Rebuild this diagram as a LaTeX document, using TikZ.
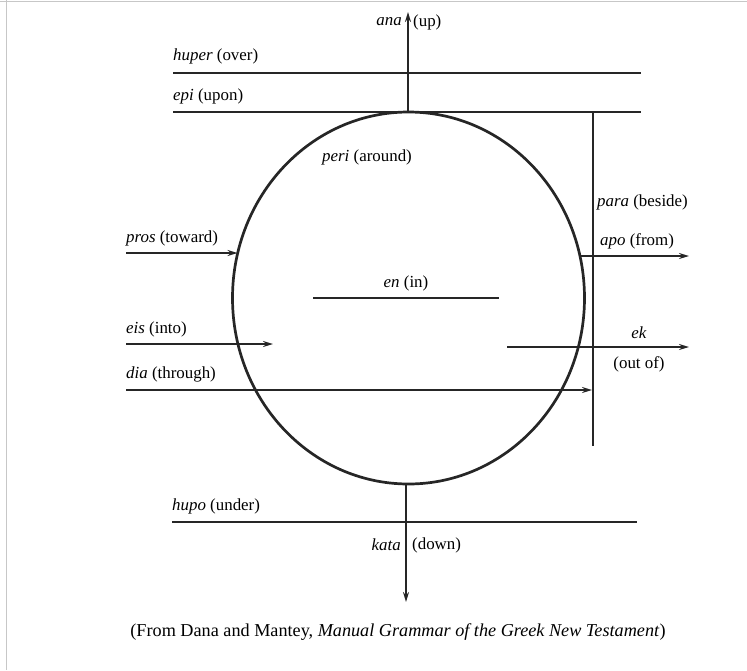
\documentclass[tikz,border=0pt]{standalone}
\usepackage{fontspec}
\setmainfont{Liberation Serif}
\usetikzlibrary{arrows.meta}
\begin{document}
\begin{tikzpicture}[x=1pt,y=-1pt,
  ln/.style={line width=1.7pt,black!85},
  arr/.style={ln,-{Stealth[length=10pt,width=6pt]}},
  lbl/.style={inner sep=0pt,font=\fontsize{16.9}{19}\selectfont},
  captxt/.style={inner sep=0pt,font=\fontsize{18.2}{21}\selectfont},
  circ/.style={line width=2.7pt,black!85},
  frame/.style={line width=1.5pt,black!22}]
\useasboundingbox (0,0) rectangle (747,670);
% screenshot frame
\coordinate (f0) at (0,1.5);
\coordinate (f1) at (747,1.5);
\coordinate (g0) at (6.5,0);
\coordinate (g1) at (6.5,670);
\draw[frame] (f0) -- (f1);
\draw[frame] (g0) -- (g1);
% circle
\coordinate (C) at (408.5,298);
\draw[circ] (C) ellipse [x radius=176, y radius=186];
% coordinates
\coordinate (anaT) at (408,12);
\coordinate (anaB) at (408,112);
\coordinate (kataT) at (406,484);
\coordinate (kataB) at (406,602);
\coordinate (huL) at (173,73);
\coordinate (huR) at (641,73);
\coordinate (epL) at (173,112);
\coordinate (epR) at (641,112);
\coordinate (paT) at (593,112);
\coordinate (paB) at (593,446);
\coordinate (prL) at (126,253);
\coordinate (prR) at (237.5,253);
\coordinate (eiL) at (126,344);
\coordinate (eiR) at (273,344);
\coordinate (diL) at (126,390);
\coordinate (diR) at (592,390);
\coordinate (enL) at (313,298);
\coordinate (enR) at (499,298);
\coordinate (apL) at (580,256);
\coordinate (apR) at (689,256);
\coordinate (ekL) at (507,347);
\coordinate (ekR) at (689,347);
\coordinate (hpL) at (172,522);
\coordinate (hpR) at (637,522);
% lines
\draw[arr] (anaB) -- (anaT);
\draw[arr] (kataT) -- (kataB);
\draw[ln] (huL) -- (huR);
\draw[ln] (epL) -- (epR);
\draw[ln] (paT) -- (paB);
\draw[arr] (prL) -- (prR);
\draw[arr] (eiL) -- (eiR);
\draw[arr] (diL) -- (diR);
\draw[ln] (enL) -- (enR);
\draw[arr] (apL) -- (apR);
\draw[arr] (ekL) -- (ekR);
\draw[ln] (hpL) -- (hpR);
% labels
\node[lbl,anchor=east] (tana) at (402,22) {\textit{ana}};
\node[lbl,anchor=west] (tup) at (413,22) {(up)};
\node[lbl,anchor=west] (thuper) at (173,56) {\textit{huper} (over)};
\node[lbl,anchor=west] (tepi) at (173,96) {\textit{epi} (upon)};
\node[lbl,anchor=west] (tperi) at (322,157) {\textit{peri} (around)};
\node[lbl,anchor=west] (tpara) at (597,202) {\textit{para} (beside)};
\node[lbl,anchor=west] (tpros) at (126,238) {\textit{pros} (toward)};
\node[lbl,anchor=west] (tapo) at (600,241) {\textit{apo} (from)};
\node[lbl] (ten) at (406,283) {\textit{en} (in)};
\node[lbl,anchor=west] (teis) at (126,329) {\textit{eis} (into)};
\node[lbl] (tek) at (639,333) {\textit{ek}};
\node[lbl] (tout) at (639,364) {(out of)};
\node[lbl,anchor=west] (tdia) at (126,374) {\textit{dia} (through)};
\node[lbl,anchor=west] (thupo) at (172,506) {\textit{hupo} (under)};
\node[lbl,anchor=east] (tkata) at (401,545) {\textit{kata}};
\node[lbl,anchor=west] (tdown) at (412,545) {(down)};
\node[captxt] (tcap) at (398,632) {(From Dana and Mantey, \textit{Manual Grammar of the Greek New Testament})};
\end{tikzpicture}
\end{document}
